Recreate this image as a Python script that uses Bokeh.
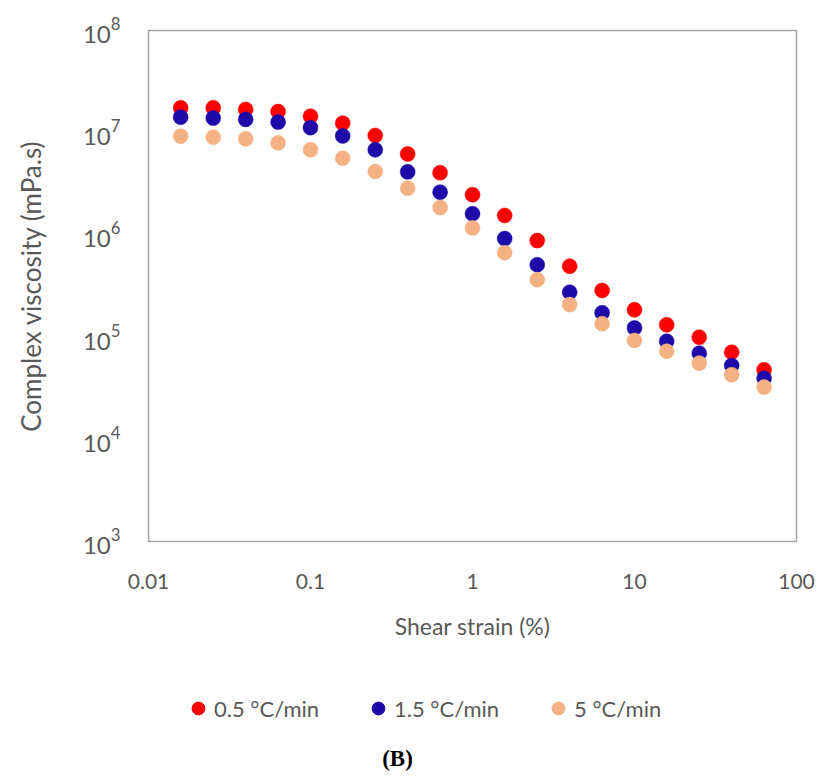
from bokeh.plotting import figure
from bokeh.layouts import column
from bokeh.models import Range1d, FixedTicker, Legend, LegendItem, Label
from bokeh.embed import file_html
from bokeh.resources import INLINE

strain = [0.0158, 0.0251, 0.0398, 0.0631, 0.1, 0.158, 0.251, 0.398, 0.631, 1.0,
          1.58, 2.51, 3.98, 6.31, 10.0, 15.8, 25.1, 39.8, 63.1]
visc_05 = [1.75e7, 1.75e7, 1.69e7, 1.61e7, 1.45e7, 1.24e7, 9.4e6, 6.2e6, 4.06e6, 2.47e6,
           1.55e6, 8.8e5, 4.94e5, 2.86e5, 1.85e5, 1.32e5, 9.97e4, 7.1e4, 4.78e4]
visc_15 = [1.42e7, 1.39e7, 1.35e7, 1.27e7, 1.12e7, 9.3e6, 6.8e6, 4.14e6, 2.62e6, 1.61e6,
           9.2e5, 5.1e5, 2.75e5, 1.73e5, 1.23e5, 9.1e4, 6.95e4, 5.27e4, 3.96e4]
visc_5 = [9.25e6, 9.04e6, 8.71e6, 7.96e6, 6.8e6, 5.63e6, 4.17e6, 2.86e6, 1.85e6, 1.17e6,
          6.68e5, 3.64e5, 2.08e5, 1.35e5, 9.27e4, 7.28e4, 5.56e4, 4.28e4, 3.24e4]
series_names = ["0.5 °C/min", "1.5 °C/min", "5 °C/min"]
colors = ["#FF0000", "#1E0AA8", "#F4B183"]
x_ticks = [0.01, 0.1, 1, 10, 100]
x_tick_labels = ["0.01", "0.1", "1", "10", "100"]
y_ticks = [1e3, 1e4, 1e5, 1e6, 1e7, 1e8]
panel_tag = "(B)"

FONT = "Lato"
GREY = "#595959"

p = figure(width=824, height=650, x_axis_type="log", y_axis_type="log",
           x_range=Range1d(0.01, 100), y_range=Range1d(1e3, 1e8),
           output_backend="svg", toolbar_location=None,
           min_border_left=148, min_border_right=28, min_border_top=30,
           min_border_bottom=109)
p.xgrid.visible = False
p.ygrid.visible = False
p.outline_line_color = "#A6A6A6"
p.outline_line_width = 1.5
p.background_fill_color = "white"
p.border_fill_color = "white"

series = [visc_05, visc_15, visc_5]
for name, col, ys in zip(series_names, colors, series):
    p.scatter(strain, ys, size=15, fill_color=col, line_color=col, line_width=0.5)

for ax in (p.xaxis[0], p.yaxis[0]):
    ax.axis_line_color = None
    ax.major_tick_line_color = None
    ax.minor_tick_line_color = None
    ax.major_label_text_font = FONT
    ax.major_label_text_color = GREY
    ax.major_label_text_font_size = "21px"
    ax.axis_label_text_font = FONT
    ax.axis_label_text_color = GREY
    ax.axis_label_text_font_style = "normal"

p.xaxis.ticker = FixedTicker(ticks=x_ticks)
p.xaxis.major_label_overrides = {t: s for t, s in zip(x_ticks, x_tick_labels)}
p.xaxis.major_label_standoff = 26
p.xaxis.axis_label = "Shear strain (%)"
p.xaxis.axis_label_text_font_size = "23px"
p.xaxis.axis_label_standoff = 20

p.yaxis.ticker = FixedTicker(ticks=y_ticks)
p.yaxis.major_label_text_font_size = "24px"
p.yaxis.major_label_standoff = 22
p.yaxis.axis_label = "Complex viscosity (mPa.s)"
p.yaxis.axis_label_text_font_size = "26px"
p.yaxis.axis_label_standoff = 33

# legend strip below the chart (its frame is aligned with the chart frame)
leg = figure(width=824, height=126, x_range=Range1d(1e3, 1e3 + 1), y_range=Range1d(0, 1),
             x_axis_location=None, y_axis_location=None,
             output_backend="svg", toolbar_location=None, min_border=0)
leg.xgrid.visible = False
leg.ygrid.visible = False
leg.outline_line_color = None
leg.border_fill_color = "white"

items = []
for name, col, ys in zip(series_names, colors, series):
    # one real point per series, lying outside this strip's range (not drawn),
    # so that the legend has a glyph to show
    r = leg.scatter(strain[:1], ys[:1], size=13, fill_color=col, line_color=col)
    items.append(LegendItem(label=name, renderers=[r]))

legend = Legend(items=items, orientation="horizontal", location=(34, 52),
                label_text_font=FONT, label_text_color=GREY, label_text_font_size="22px",
                glyph_width=32, glyph_height=32, label_standoff=0, label_width=148,
                spacing=0, border_line_color=None, background_fill_alpha=0,
                margin=0, padding=0)
leg.add_layout(legend, "center")

tag = Label(x=249, y=18, x_units="screen", y_units="screen", text=panel_tag,
            text_font="Liberation Serif", text_font_style="bold", text_font_size="23px",
            text_color="black", text_align="center", text_baseline="middle")
leg.add_layout(tag)

layout = column(p, leg, spacing=0)
open("out.html", "w").write(file_html(layout, INLINE))
